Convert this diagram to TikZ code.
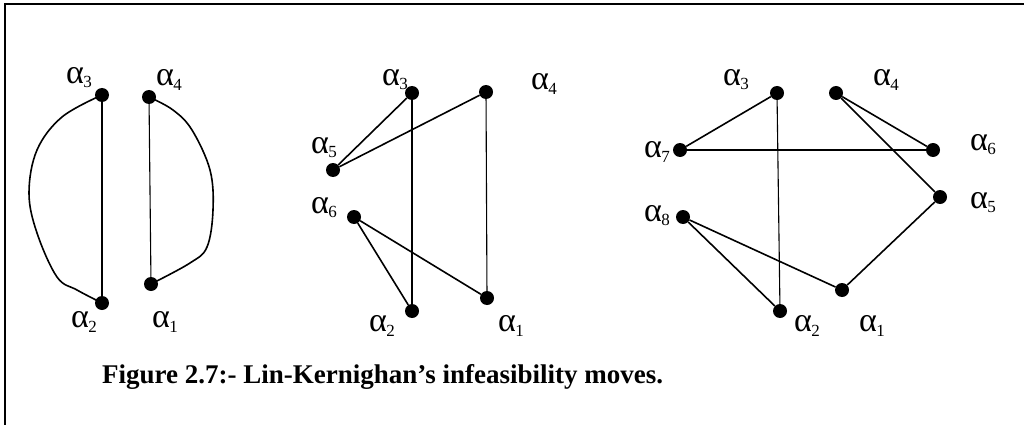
\documentclass[tikz,border=0pt]{standalone}
\usepackage{fontspec}
\setmainfont{Liberation Serif}
\usetikzlibrary{positioning}

\tikzset{
  dot/.style={circle, fill=black, inner sep=0pt, minimum size=14pt},
  lab/.style={inner sep=0pt, font=\fontsize{34}{34}\selectfont},
  edge/.style={line width=1.6pt},
  thin edge/.style={line width=1.1pt},
}
\newcommand{\al}[1]{α\kern-0.5pt\raisebox{-0.12em}{\fontsize{17}{17}\selectfont #1}}

\begin{document}
\begin{tikzpicture}[x=1pt, y=-1pt]
\useasboundingbox (0,0) rectangle (1024,425);
% frame
\draw[line width=2pt] (5,425) -- (5,4) -- (1024,4);

% first tour: two halves
\foreach \n/\x/\y in {3/102/95, 4/149/97, 2/102/303, 1/151/284}{
  \node[dot] (a\n) at (\x,\y) {};
}
\foreach \n/\x/\y in {3/79/78, 4/169/80, 2/84/322, 1/165/322}{
  \node[lab] (la\n) at (\x,\y) {\al{\n}};
}
\draw[thin edge] (a3) -- (a2);
\draw[thin edge] (a4) -- (a1);
\draw[edge] plot[smooth, tension=0.6] coordinates
  {(a3) (62,117) (37,150) (29,193) (37,233) (57,277) (77,290) (a2)};
\draw[edge] plot[smooth, tension=0.6] coordinates
  {(a4) (173,110) (192,130) (210,170) (213,210) (207,247) (190,263) (a1)};

% second move
\foreach \n/\x/\y in {3/412/93, 4/486/92, 5/333/170, 6/354/217, 2/412/311, 1/487/298}{
  \node[dot] (b\n) at (\x,\y) {};
}
\foreach \n/\x/\y in {3/395/80, 4/544/84, 5/324/148, 6/324/208, 2/382/326, 1/511/326}{
  \node[lab] (lb\n) at (\x,\y) {\al{\n}};
}
\draw[thin edge] (b3) -- (b2);
\draw[thin edge] (b4) -- (b1);
\draw[edge] (b5) -- (b3);
\draw[edge] (b5) -- (b4);
\draw[edge] (b6) -- (b2);
\draw[edge] (b6) -- (b1);

% third move
\foreach \n/\x/\y in {3/777/93, 4/836/93, 7/680/150, 6/933/150, 5/940/197, 8/683/217, 1/842/290, 2/780/311}{
  \node[dot] (c\n) at (\x,\y) {};
}
\foreach \n/\x/\y in {3/736/80, 4/886/80, 7/657/152, 8/657/216, 6/983/145, 5/983/203, 2/807/326, 1/872/326}{
  \node[lab] (lc\n) at (\x,\y) {\al{\n}};
}
\draw[thin edge] (c3) -- (c2);
\draw[edge] (c3) -- (c7);
\draw[edge, shorten >=-10pt] (c7) -- (c6);
\draw[edge] (c4) -- (c6);
\draw[edge] (c4) -- (c5);
\draw[edge] (c5) -- (c1);
\draw[edge] (c8) -- (c1);
\draw[edge] (c8) -- (c2);

% caption
\node[anchor=base west, inner sep=0pt, font=\fontsize{27}{27}\selectfont\bfseries]
  (cap) at (102,383) {Figure 2.7:- Lin-Kernighan’s infeasibility moves.};
\end{tikzpicture}
\end{document}
